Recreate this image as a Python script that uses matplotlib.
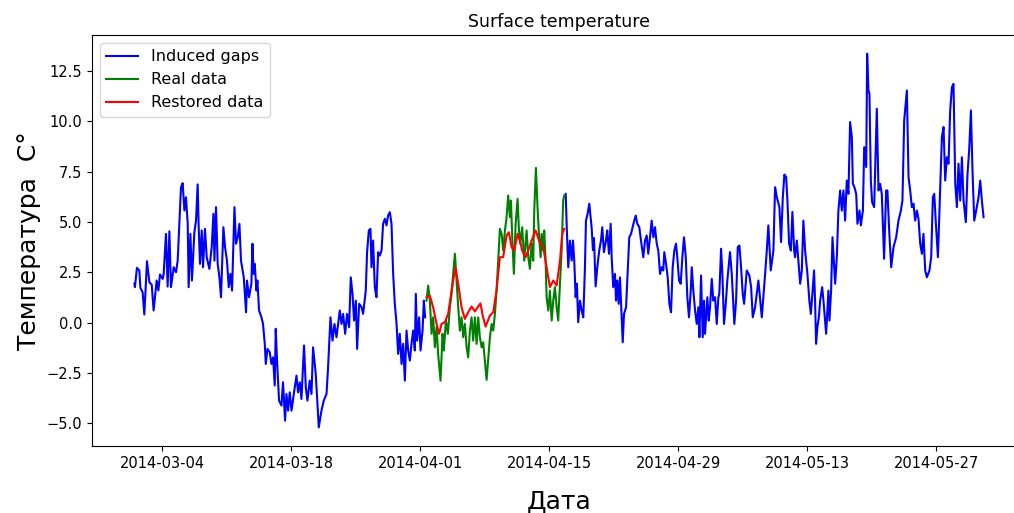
import matplotlib
matplotlib.use("Agg")
import matplotlib.pyplot as plt
import matplotlib.dates as mdates
import numpy as np
import pandas as pd

# start of the series
start = "2014-03-01"

# blue series ("Induced gaps"), days since start; a gap sits between 31.5 and 46.8
blue_days = [
    0.00, 0.05, 0.27, 0.53, 0.64, 0.89, 1.07, 1.36, 1.62, 1.87,
    2.08, 2.41, 2.60, 2.77, 3.07, 3.17, 3.42, 3.60, 3.79, 3.96,
    4.26, 4.51, 4.69, 5.05, 5.23, 5.42, 5.59, 5.78, 5.88, 6.07,
    6.24, 6.50, 6.68, 6.86, 6.97, 7.11, 7.30, 7.44, 7.65, 7.84,
    8.13, 8.38, 8.57, 8.68, 8.85, 9.03, 9.22, 9.39, 9.65, 9.83,
    10.04, 10.23, 10.41, 10.59, 10.85, 11.02, 11.21, 11.39, 11.56, 11.86,
    12.11, 12.21, 12.43, 12.69, 12.80, 12.94, 13.05, 13.24, 13.34, 13.52,
    13.78, 13.95, 14.14, 14.25, 14.43, 14.68, 14.86, 15.04, 15.22, 15.33,
    15.47, 15.69, 15.95, 16.12, 16.34, 16.49, 16.67, 16.85, 17.04, 17.29,
    17.58, 17.75, 17.94, 18.12, 18.40, 18.59, 18.77, 19.02, 19.21, 19.38,
    19.67, 20.00, 20.29, 20.54, 20.84, 21.01, 21.27, 21.49, 21.70, 21.92,
    22.14, 22.28, 22.46, 22.64, 22.86, 23.07, 23.29, 23.47, 23.66, 23.83,
    24.02, 24.16, 24.38, 24.64, 24.81, 25.10, 25.24, 25.43, 25.61, 25.72,
    25.89, 26.08, 26.26, 26.44, 26.62, 26.81, 26.98, 27.17, 27.35, 27.52,
    27.71, 27.89, 28.07, 28.25, 28.44, 28.61, 28.79, 28.98, 29.15, 29.34,
    29.52, 29.70, 29.88, 30.06, 30.24, 30.42, 30.53, 30.67, 30.89, 31.04,
    31.26, 31.40, 31.54,
    46.79, 46.93, 47.07, 47.25, 47.44, 47.58, 47.72, 47.87, 48.01, 48.15,
    48.34, 48.52, 48.70, 48.88, 48.99, 49.17, 49.35, 49.61, 49.75, 49.86,
    50.04, 50.22, 50.43, 50.62, 50.76, 50.94, 51.16, 51.30, 51.49, 51.67,
    51.78, 51.95, 52.14, 52.25, 52.39, 52.54, 52.68, 52.87, 52.98, 53.12,
    53.34, 53.52, 53.69, 53.88, 54.06, 54.23, 54.39, 54.56, 54.78, 54.96,
    55.21, 55.40, 55.58, 55.75, 55.94, 56.12, 56.30, 56.48, 56.67, 56.84,
    57.03, 57.21, 57.38, 57.49, 57.68, 57.86, 58.04, 58.22, 58.40, 58.58,
    58.76, 58.90, 59.09, 59.27, 59.45, 59.63, 59.82, 59.99, 60.17, 60.36,
    60.47, 60.64, 60.83, 61.01, 61.19, 61.30, 61.48, 61.66, 61.80, 61.91,
    62.16, 62.31, 62.45, 62.64, 62.81, 63.00, 63.18, 63.36, 63.46, 63.65,
    63.79, 63.97, 64.16, 64.33, 64.62, 64.81, 65.09, 65.28, 65.46, 65.64,
    65.82, 66.00, 66.15, 66.44, 66.72, 66.91, 67.09, 67.34, 67.52, 67.70,
    68.07, 68.43, 68.61, 68.78, 69.04, 69.33, 69.51, 69.70, 69.98, 70.16,
    70.35, 70.52, 70.71, 70.85, 71.03, 71.22, 71.39, 71.58, 71.68, 71.87,
    72.04, 72.23, 72.41, 72.58, 72.77, 73.02, 73.23, 73.39, 73.56, 73.74,
    73.85, 73.96, 74.10, 74.26, 74.40, 74.62, 74.76, 75.05, 75.30, 75.41,
    75.59, 75.74, 76.03, 76.21, 76.38, 76.57, 76.75, 76.93, 77.11, 77.29,
    77.47, 77.65, 77.84, 77.95, 78.12, 78.31, 78.45, 78.67, 78.82, 79.04,
    79.18, 79.40, 79.50, 79.64, 79.75, 79.90, 80.04, 80.26, 80.55, 80.73,
    80.91, 81.09, 81.34, 81.56, 81.70, 81.89, 82.11, 82.36, 82.65, 82.90,
    83.16, 83.33, 83.52, 83.81, 83.99, 84.17, 84.35, 84.53, 84.71, 84.90,
    85.07, 85.26, 85.44, 85.61, 85.80, 85.98, 86.26, 86.45, 86.63, 86.78,
    86.96, 87.18, 87.43, 87.61, 87.79, 87.97, 88.15, 88.33, 88.51, 88.70,
    88.87, 89.06, 89.24, 89.41, 89.60, 89.78, 89.96, 90.21, 90.39, 90.57,
    90.76, 90.93, 91.12, 91.33, 91.59, 91.77, 91.95, 92.13,
]
blue_temp = [
    1.93, 1.76, 2.72, 2.59, 1.73, 1.50, 0.40, 3.05, 2.00, 1.89,
    0.60, 2.09, 1.60, 2.39, 2.17, 2.42, 4.41, 1.79, 4.54, 1.76,
    2.75, 2.50, 3.08, 6.73, 6.93, 5.57, 6.23, 4.91, 1.76, 4.41,
    2.09, 4.49, 5.07, 6.87, 4.74, 2.92, 4.58, 2.75, 4.66, 3.25,
    2.67, 3.75, 5.41, 3.08, 5.74, 2.92, 2.25, 1.26, 4.74, 3.75,
    3.08, 1.76, 2.42, 1.59, 5.74, 3.92, 4.24, 4.91, 3.08, 2.25,
    0.51, 2.09, 1.26, 1.93, 3.92, 2.42, 2.92, 1.59, 2.09, 0.60,
    0.26, -0.07, -1.06, -2.06, -1.31, -1.48, -2.06, -1.73, -3.13, -0.31,
    -1.89, -3.88, -4.13, -2.97, -4.88, -3.55, -4.38, -3.47, -4.38, -3.55,
    -2.64, -3.47, -2.97, -3.80, -1.14, -3.22, -3.88, -2.89, -3.55, -1.23,
    -2.55, -5.21, -4.38, -3.88, -3.55, -2.22, 0.26, -0.90, -0.07, -0.73,
    0.10, 0.60, -0.07, 0.43, -0.56, 0.43, -0.23, 2.25, 1.43, 0.10,
    1.09, -1.31, 0.93, 0.76, 0.43, 1.59, 3.50, 4.58, 4.66, 2.75,
    4.08, 1.76, 1.26, 3.50, 3.33, 3.58, 4.91, 5.16, 4.83, 5.32,
    5.49, 4.91, 2.42, 0.93, -0.07, -1.56, -0.56, -2.06, -1.06, -2.89,
    -0.40, -1.39, -1.89, -1.06, -0.40, -1.39, 1.43, -0.90, 0.26, -1.39,
    -0.40, 1.09, 0.26,
    6.40, 4.41, 2.75, 4.08, 3.08, 4.08, 3.08, 1.26, 1.93, 0.02,
    1.09, 0.60, 0.26, 2.75, 5.07, 5.41, 5.91, 4.70, 3.60, 4.20,
    1.80, 2.75, 3.58, 4.08, 4.74, 3.50, 4.08, 4.58, 3.42, 4.91,
    3.25, 1.76, 2.42, 1.09, 2.09, 0.93, 2.25, 0.26, -0.98, 0.43,
    0.76, 2.59, 4.24, 4.41, 4.74, 5.07, 5.32, 4.91, 4.74, 4.08,
    3.25, 4.08, 4.33, 3.42, 4.24, 5.07, 4.24, 4.74, 3.92, 3.58,
    2.42, 2.75, 2.59, 3.50, 2.92, 2.25, 0.93, 0.51, 2.75, 3.58,
    3.92, 3.25, 2.09, 1.93, 3.25, 4.24, 3.25, 1.26, 0.26, 1.59,
    2.75, 1.59, 0.60, -0.07, 0.76, -0.73, 2.34, -0.73, 1.09, -0.56,
    1.26, 0.10, 0.76, 2.17, 1.09, 1.26, -0.07, 1.26, 1.43, 3.67,
    2.42, -0.07, 0.93, 2.09, 3.50, 2.42, -0.07, 1.09, 3.75, 3.83,
    2.75, 1.43, 0.93, 2.59, 2.34, 1.76, 0.26, 0.76, 1.43, 2.09,
    0.26, 2.42, 3.58, 4.83, 2.59, 3.58, 6.73, 6.23, 5.74, 4.00,
    6.23, 7.36, 7.23, 6.07, 3.92, 3.58, 5.50, 3.58, 3.25, 4.08,
    3.08, 1.93, 2.59, 5.07, 3.58, 2.42, 1.09, 0.43, 1.43, 2.59,
    1.09, -1.06, -0.23, 0.26, 1.09, 1.76, 1.09, -0.56, 1.59, 0.10,
    1.59, 4.24, 1.93, 3.25, 5.57, 6.57, 5.57, 6.57, 5.07, 7.06,
    6.40, 9.97, 9.22, 6.90, 6.73, 6.40, 4.91, 5.57, 4.83, 5.57,
    8.72, 7.73, 13.37, 11.54, 11.38, 7.06, 5.99, 5.74, 10.63, 6.57,
    6.90, 6.40, 3.17, 6.57, 6.57, 4.58, 2.75, 3.75, 4.24, 5.07,
    5.57, 6.07, 10.05, 11.54, 7.23, 6.57, 5.74, 5.91, 5.07, 5.57,
    5.16, 3.92, 3.42, 4.41, 2.59, 2.25, 2.59, 3.25, 6.23, 6.40,
    4.91, 3.25, 6.73, 9.22, 9.72, 7.06, 8.22, 7.90, 10.55, 11.71,
    11.87, 6.90, 5.74, 7.90, 6.07, 8.22, 6.07, 4.99, 7.40, 8.56,
    10.55, 7.56, 5.07, 5.57, 6.23, 7.06, 6.07, 5.24,
]

# green series ("Real data") inside the gap
green_days = [
    31.69, 31.87, 32.05, 32.24, 32.41, 32.60, 32.78, 32.95, 33.21, 33.43,
    33.57, 33.79, 34.01, 34.22, 34.41, 34.58, 34.77, 34.95, 35.13, 35.31,
    35.49, 35.67, 35.85, 36.04, 36.21, 36.40, 36.58, 36.75, 36.94, 37.12,
    37.30, 37.48, 37.67, 37.84, 38.21, 38.57, 38.75, 38.93, 39.11, 39.29,
    39.47, 39.65, 39.84, 40.01, 40.20, 40.38, 40.55, 40.74, 40.85, 40.99,
    41.17, 41.36, 41.57, 41.72, 41.86, 42.07, 42.29, 42.55, 42.73, 42.91,
    43.09, 43.27, 43.38, 43.56, 43.75, 43.89, 44.07, 44.18, 44.35, 44.46,
    44.61, 44.72, 44.90, 45.08, 45.27, 45.44, 45.62, 45.81, 45.98, 46.17,
    46.35, 46.52, 46.63,
]
green_temp = [
    1.09, 1.84, 1.09, -0.56, 0.26, -1.23, -0.23, -1.56, -2.89, -0.56,
    -1.39, 0.10, -0.56, 0.76, 1.43, 2.42, 3.42, 2.09, 0.76, -0.40,
    0.26, -0.73, -0.07, -1.23, -1.73, -0.40, 0.26, -0.90, 0.26, -1.06,
    0.26, -0.73, -1.23, -0.98, -2.85, -0.73, -0.07, -0.40, 0.43, 1.59,
    3.08, 4.66, 4.41, 3.58, 4.58, 5.24, 6.32, 5.24, 6.07, 4.24,
    2.42, 4.91, 6.15, 4.58, 3.92, 4.74, 3.08, 4.58, 3.25, 2.67,
    3.92, 3.08, 5.57, 7.69, 5.57, 4.41, 3.25, 4.41, 3.58, 4.58,
    3.08, 1.26, 0.60, 1.59, 0.10, 1.09, 1.76, 0.76, 0.10, 1.93,
    3.58, 6.07, 6.32,
]

# red series ("Restored data") inside the gap
red_days = [
    31.69, 32.05, 32.41, 32.78, 33.06, 33.32, 33.68, 34.04, 34.41, 34.82,
    35.13, 35.49, 35.85, 36.21, 36.58, 36.94, 37.30, 37.54, 37.81, 38.10,
    38.57, 38.93, 39.29, 39.65, 40.01, 40.38, 40.63, 40.92, 41.21, 41.57,
    41.82, 42.07, 42.44, 42.73, 43.09, 43.53, 43.89, 44.35, 44.72, 45.08,
    45.44, 45.81, 46.17, 46.42, 46.63,
]
red_temp = [
    1.26, 1.34, 0.76, -0.07, -0.56, -0.07, 0.02, 0.43, 1.59, 2.75,
    1.93, 0.76, 0.18, 0.51, 0.80, 0.55, 0.80, 0.95, 0.30, -0.20,
    0.35, 0.51, 1.60, 3.25, 3.25, 4.33, 4.49, 3.75, 3.58, 4.41,
    4.08, 3.58, 3.25, 3.58, 4.08, 4.58, 4.08, 3.75, 2.75, 1.76,
    2.09, 1.84, 3.08, 4.41, 4.66,
]

tick_dates = ["2014-03-04", "2014-03-18", "2014-04-01", "2014-04-15",
              "2014-04-29", "2014-05-13", "2014-05-27"]


def to_dates(days):
    return pd.Timestamp(start) + pd.to_timedelta(np.asarray(days), unit="D")


# blue line is broken where the gap was induced
bd = np.asarray(blue_days)
bt = np.asarray(blue_temp, dtype=float)
cut = np.where(np.diff(bd) > 1)[0] + 1
bd = np.insert(bd, cut, bd[cut - 1] + 0.01)
bt = np.insert(bt, cut, np.nan)

fig = plt.figure(figsize=(10.14, 5.13), dpi=100)
# the original picture is cut on the right, so the axes run past the edge
ax = fig.add_axes([92 / 1014, 67 / 513, 934 / 1014, 411 / 513])

ax.plot(to_dates(bd), bt, color="blue", label="Induced gaps")
ax.plot(to_dates(green_days), green_temp, color="green", label="Real data")
ax.plot(to_dates(red_days), red_temp, color="red", label="Restored data")

ax.set_xticks(pd.to_datetime(tick_dates))
ax.xaxis.set_major_formatter(mdates.DateFormatter("%Y-%m-%d"))
ax.tick_params(labelsize=10.5)

ax.set_title("Surface temperature", fontsize=12.5)
ax.set_xlabel("Дата", fontsize=18, labelpad=14)
ax.set_ylabel("Температура  C°", fontsize=18)
ax.legend(loc="upper left", fontsize=11.5)

fig.savefig("out.png", dpi=100)
